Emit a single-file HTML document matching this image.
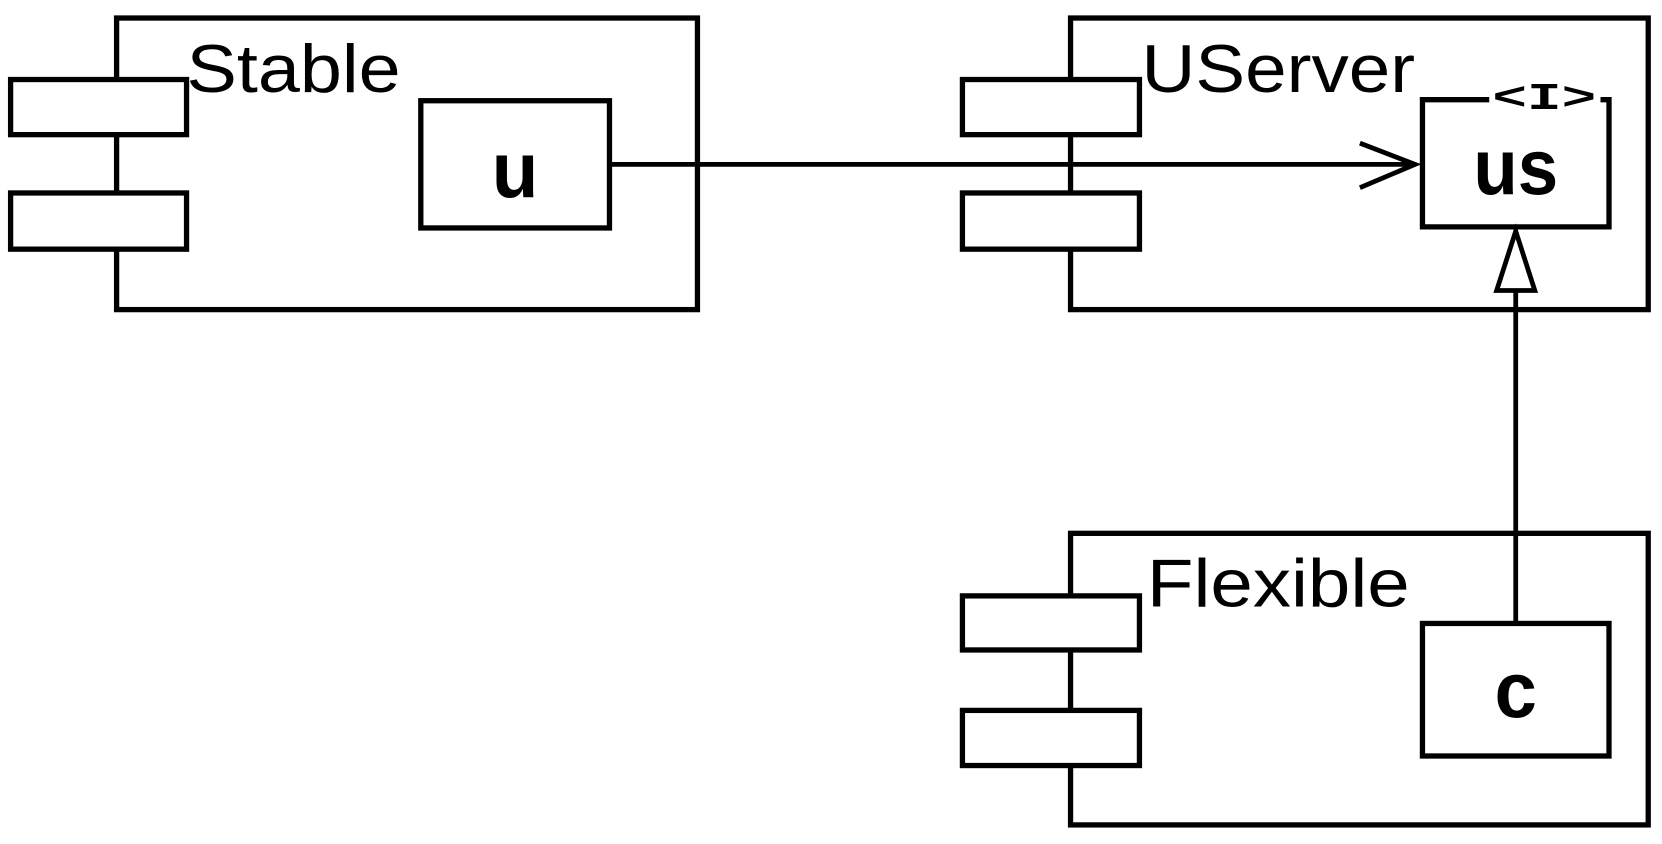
<!DOCTYPE html>
<html><head><meta charset="utf-8"><style>html,body{margin:0;padding:0;background:#fff;}svg{display:block}</style></head>
<body>
<svg width="1662" height="844" viewBox="0 0 1568 796" preserveAspectRatio="none" xmlns="http://www.w3.org/2000/svg">
<g fill="#fff" stroke="#000" stroke-width="5">
<rect x="110" y="17" width="548" height="275"/>
<rect x="10" y="75" width="166" height="52"/>
<rect x="10" y="182" width="166" height="53"/>
<rect x="397" y="95" width="178" height="120"/>
<rect x="1010" y="17" width="545" height="275"/>
<rect x="908" y="75" width="167" height="52"/>
<rect x="908" y="182" width="167" height="53"/>
<rect x="1010" y="503" width="545" height="275"/>
<rect x="908" y="562" width="167" height="51"/>
<rect x="908" y="670" width="167" height="52"/>
<rect x="1342" y="588" width="176" height="125"/>
<path d="M1405 94 H1342 V214 H1518 V94 H1510" fill="#fff"/>
</g>
<g fill="none" stroke="#000" stroke-width="4.5">
<line x1="575" y1="155" x2="1333" y2="155"/>
<polyline points="1283,135 1335,155 1283,177"/>
<line x1="1430" y1="588" x2="1430" y2="272"/>
<polygon points="1430,218 1412,274 1448,274" fill="#fff"/>
</g>
<g font-family="Liberation Sans, sans-serif" fill="#000">
<text x="176" y="87" font-size="64" textLength="202" lengthAdjust="spacingAndGlyphs">Stable</text>
<text x="1077" y="87" font-size="64" textLength="258" lengthAdjust="spacingAndGlyphs">UServer</text>
<text x="1082" y="572" font-size="64" textLength="248" lengthAdjust="spacingAndGlyphs">Flexible</text>
<text x="486" y="186" font-size="74" font-weight="bold" text-anchor="middle" textLength="44" lengthAdjust="spacingAndGlyphs">u</text>
<text x="1430" y="183" font-size="74" font-weight="bold" text-anchor="middle" textLength="80" lengthAdjust="spacingAndGlyphs">us</text>
<text x="1430" y="676" font-size="74" font-weight="bold" text-anchor="middle" textLength="40" lengthAdjust="spacingAndGlyphs">c</text>
<text x="1457" y="103" font-size="36" font-weight="bold" font-family="Liberation Mono, monospace" text-anchor="middle" textLength="98" lengthAdjust="spacingAndGlyphs">&lt;I&gt;</text>
</g>
</svg>
</body></html>
